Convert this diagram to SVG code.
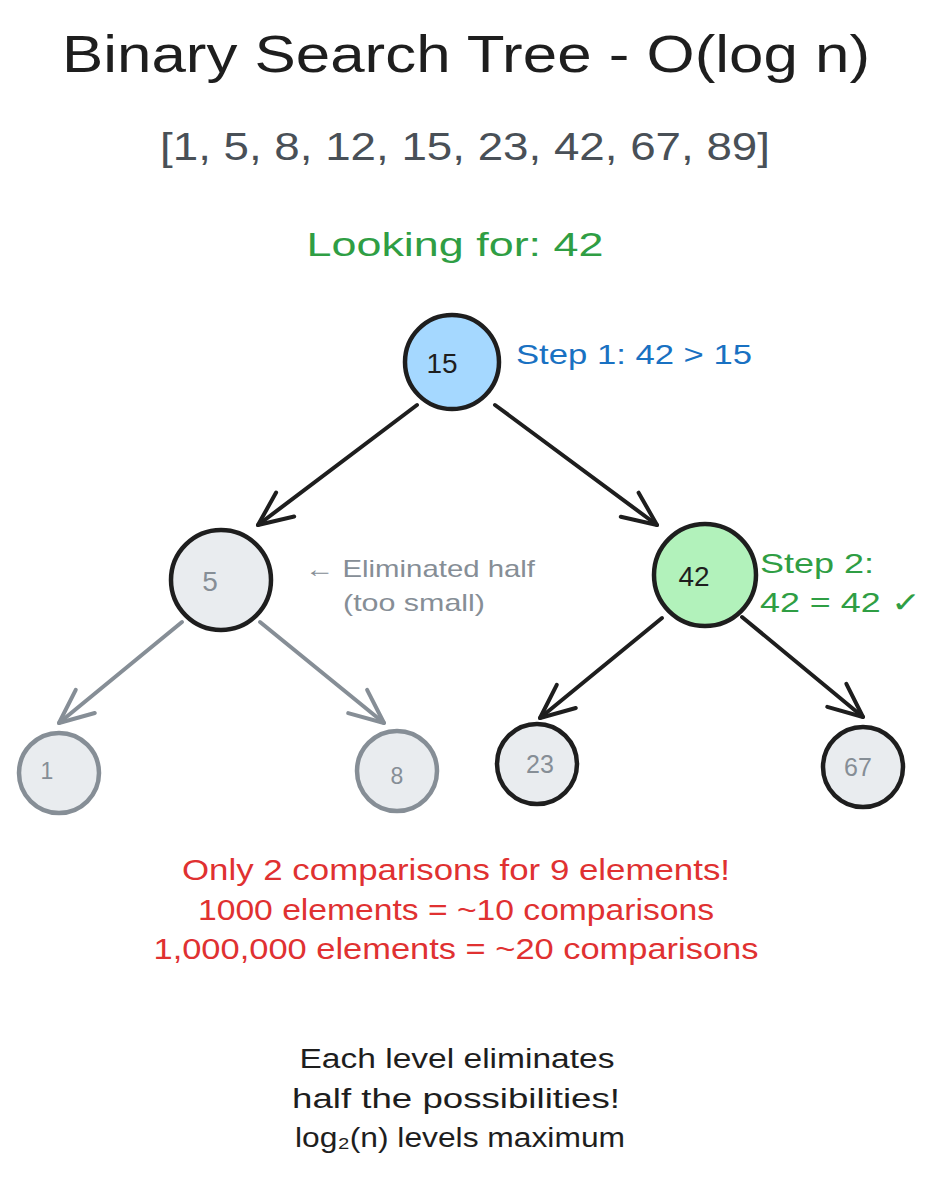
<svg xmlns="http://www.w3.org/2000/svg" width="937" height="1180" viewBox="0 0 937 1180">
<style>
text{font-family:"Liberation Sans","Noto Sans",sans-serif}
.blk{fill:#1e1e1e}
.gry{fill:#868e96}
.grn{fill:#2f9e44}
.blu{fill:#1971c2}
.red{fill:#e03131}
.sub{fill:#495057}
.nd{stroke:#1e1e1e;stroke-width:4.5}
.ndg{stroke:#868e96;stroke-width:4.5}
.e{fill:none;stroke-width:4;stroke-linecap:round}
</style>
<defs>
<marker id="ab" markerUnits="userSpaceOnUse" viewBox="-40 -20 44 40" markerWidth="44" markerHeight="40" refX="0" refY="0" orient="auto">
<path d="M-34,-15 L0,0 L-34,15" fill="none" stroke="#1e1e1e" stroke-width="4" stroke-linecap="round" stroke-linejoin="round"/>
</marker>
<marker id="ag" markerUnits="userSpaceOnUse" viewBox="-40 -20 44 40" markerWidth="44" markerHeight="40" refX="0" refY="0" orient="auto">
<path d="M-34,-15 L0,0 L-34,15" fill="none" stroke="#868e96" stroke-width="4" stroke-linecap="round" stroke-linejoin="round"/>
</marker>
</defs>
<rect width="937" height="1180" fill="#ffffff"/>
<g id="title">
<text x="466" y="72" font-size="52" text-anchor="middle" class="blk" textLength="808" lengthAdjust="spacingAndGlyphs">Binary Search Tree - O(log n)</text>
<text x="465" y="160" font-size="38" text-anchor="middle" class="sub" textLength="610" lengthAdjust="spacingAndGlyphs">[1, 5, 8, 12, 15, 23, 42, 67, 89]</text>
<text x="455" y="256" font-size="34" text-anchor="middle" class="grn" textLength="297" lengthAdjust="spacingAndGlyphs">Looking for: 42</text>
</g>
<g id="connectors">
<line class="e" x1="417" y1="405" x2="258" y2="525" stroke="#1e1e1e" marker-end="url(#ab)"/>
<line class="e" x1="495" y1="405" x2="657" y2="525" stroke="#1e1e1e" marker-end="url(#ab)"/>
<line class="e" x1="182" y1="622" x2="59" y2="723" stroke="#868e96" marker-end="url(#ag)"/>
<line class="e" x1="260" y1="622" x2="384" y2="723" stroke="#868e96" marker-end="url(#ag)"/>
<line class="e" x1="662" y1="618" x2="540" y2="718" stroke="#1e1e1e" marker-end="url(#ab)"/>
<line class="e" x1="742" y1="617" x2="863" y2="717" stroke="#1e1e1e" marker-end="url(#ab)"/>
</g>
<g id="node15">
<circle cx="452" cy="362" r="47" fill="#a5d8ff" class="nd"/>
<text x="442" y="373" font-size="28" text-anchor="middle" class="blk">15</text>
<text x="516" y="364" font-size="28" class="blu" textLength="236" lengthAdjust="spacingAndGlyphs">Step 1: 42 &gt; 15</text>
</g>
<g id="node5">
<circle cx="221" cy="580" r="50" fill="#e9ecef" class="nd"/>
<text x="210" y="591" font-size="28" text-anchor="middle" class="gry">5</text>
<text x="305" y="577" font-size="24" class="gry" textLength="230" lengthAdjust="spacingAndGlyphs">← Eliminated half</text>
<text x="343" y="611" font-size="24" class="gry" textLength="142" lengthAdjust="spacingAndGlyphs">(too small)</text>
</g>
<g id="node42">
<circle cx="705" cy="575" r="51" fill="#b2f2bb" class="nd"/>
<text x="694" y="586" font-size="28" text-anchor="middle" class="blk">42</text>
<text x="760" y="573" font-size="28" class="grn" textLength="114" lengthAdjust="spacingAndGlyphs">Step 2:</text>
<text x="760" y="612" font-size="28" class="grn" textLength="160" lengthAdjust="spacingAndGlyphs">42 = 42 ✓</text>
</g>
<g id="node1">
<circle cx="59" cy="773" r="40" fill="#e9ecef" class="ndg"/>
<text x="47" y="779" font-size="23" text-anchor="middle" class="gry">1</text>
</g>
<g id="node8">
<circle cx="397" cy="771" r="40" fill="#e9ecef" class="ndg"/>
<text x="397" y="784" font-size="23" text-anchor="middle" class="gry">8</text>
</g>
<g id="node23">
<circle cx="537" cy="764" r="40" fill="#e9ecef" class="nd"/>
<text x="540" y="773" font-size="25" text-anchor="middle" class="gry">23</text>
</g>
<g id="node67">
<circle cx="863" cy="767" r="40" fill="#e9ecef" class="nd"/>
<text x="858" y="776" font-size="25" text-anchor="middle" class="gry">67</text>
</g>
<g id="summary">
<text x="456" y="880" font-size="29" text-anchor="middle" class="red" textLength="548" lengthAdjust="spacingAndGlyphs">Only 2 comparisons for 9 elements!</text>
<text x="456" y="920" font-size="29" text-anchor="middle" class="red" textLength="516" lengthAdjust="spacingAndGlyphs">1000 elements = ~10 comparisons</text>
<text x="456" y="959" font-size="29" text-anchor="middle" class="red" textLength="605" lengthAdjust="spacingAndGlyphs">1,000,000 elements = ~20 comparisons</text>
</g>
<g id="footer">
<text x="457" y="1068" font-size="27" text-anchor="middle" class="blk" textLength="315" lengthAdjust="spacingAndGlyphs">Each level eliminates</text>
<text x="456" y="1108" font-size="27" text-anchor="middle" class="blk" textLength="328" lengthAdjust="spacingAndGlyphs">half the possibilities!</text>
<text x="460" y="1147" font-size="27" text-anchor="middle" class="blk" textLength="330" lengthAdjust="spacingAndGlyphs">log₂(n) levels maximum</text>
</g>
</svg>
